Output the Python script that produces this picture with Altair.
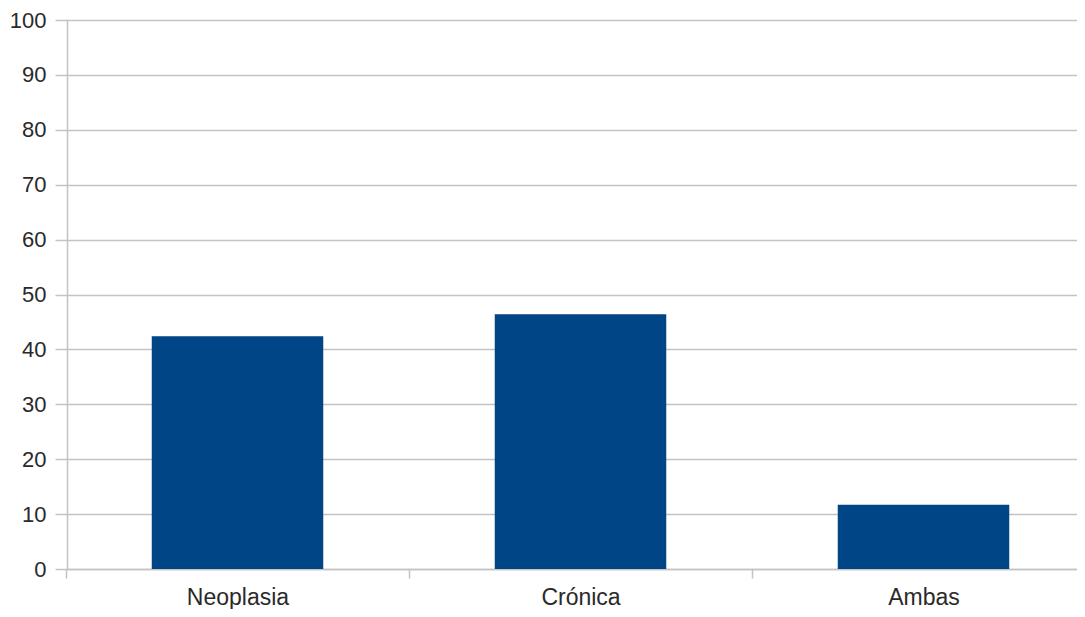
import altair as alt
import pandas as pd

categories = ["Neoplasia", "Crónica", "Ambas"]
values = [42.4, 46.4, 11.7]

df = pd.DataFrame({"categoria": categories, "valor": values})

FONT = "Liberation Sans"
GRID = "#c3c3c3"

chart = alt.Chart(df).mark_bar(color="#004586", width=alt.RelativeBandSize(0.5)).encode(
    x=alt.X(
        "categoria:N",
        sort=categories,
        title=None,
        scale=alt.Scale(paddingInner=0, paddingOuter=0, range=[-1, 1028]),
        axis=alt.Axis(
            labelAngle=0,
            labelFont=FONT,
            labelFontSize=23,
            labelColor="#2a2a2a",
            labelPadding=8,
            domainColor=GRID,
            domainWidth=1.5,
            tickColor=GRID,
            tickWidth=1.5,
            tickSize=9,
            tickBand="extent",
            grid=False,
        ),
    ),
    y=alt.Y(
        "valor:Q",
        title=None,
        scale=alt.Scale(domain=[0, 100], nice=False),
        axis=alt.Axis(
            values=list(range(0, 101, 10)),
            labelFont=FONT,
            labelFontSize=22,
            labelColor="#2a2a2a",
            labelPadding=9,
            domainColor=GRID,
            domainWidth=1.5,
            tickColor=GRID,
            tickWidth=1.5,
            tickSize=12,
            grid=True,
            gridColor=GRID,
            gridWidth=1.5,
        ),
    ),
).properties(
    width=1010,
    height=549,
    autosize=alt.AutoSizeParams(type="none"),
    padding={"left": 59, "top": 12, "right": 0, "bottom": 40},
).configure_view(stroke=None)

chart.save("out.html", embed_options={"renderer": "svg", "actions": False})
